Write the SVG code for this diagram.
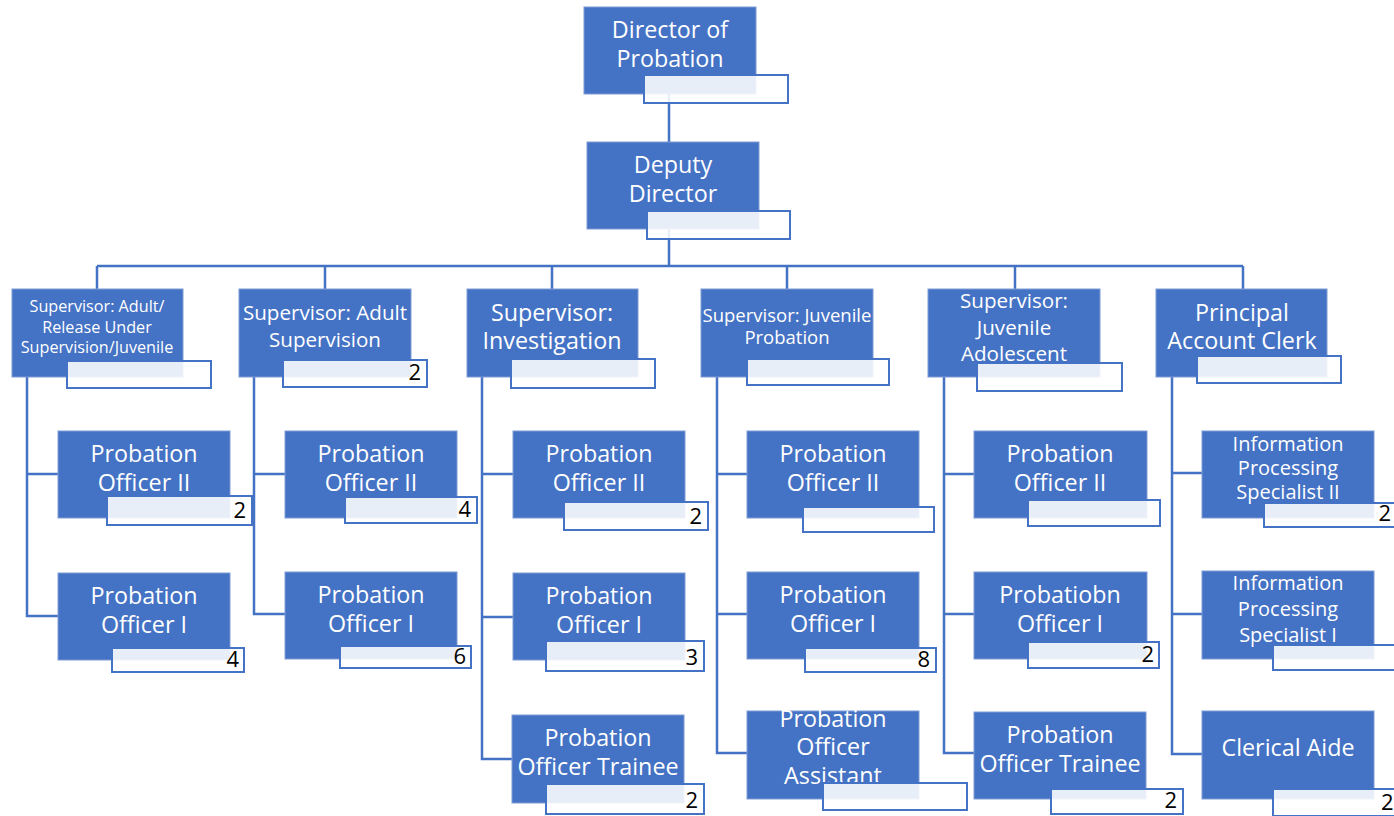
<svg xmlns="http://www.w3.org/2000/svg" width="1394" height="816" viewBox="0 0 1394 816">
<style>
.bg{fill:#ffffff}
.conn{fill:none;stroke:#4472C4;stroke-width:2.5}
.box{fill:#4472C4;stroke:#7E9BD6;stroke-width:1}
.lbl{fill:#ffffff;fill-opacity:0.88;stroke:#4472C4;stroke-width:2}
.t{fill:#ffffff;font-family:"Open Sans","Noto Sans",sans-serif;text-anchor:middle}
.n{fill:#000000;font-family:"Open Sans","Noto Sans",sans-serif;font-size:22px;text-anchor:end}
</style>
<rect class="bg" x="0" y="0" width="1394" height="816"/>
<g id="connectors">
<path class="conn" d="M669 94V142M669 229V266M97 266H1243M97 266V289M325 266V289M552 266V289M787 266V289M1015 266V289M1243 266V289"/>
<path class="conn" d="M27 377V616H58M27 474H58"/>
<path class="conn" d="M254 377V614H285M254 474H285"/>
<path class="conn" d="M482 377V759H513M482 474H513M482 617H513"/>
<path class="conn" d="M717 377V753H747M717 474H747M717 614H747"/>
<path class="conn" d="M944 377V753H974M944 474H974M944 614H974"/>
<path class="conn" d="M1172 377V754H1202M1172 473H1202M1172 614H1202"/>
</g>
<g id="director">
<rect class="box" x="584" y="7" width="172" height="87"/>
<text class="t" font-size="23.3"><tspan x="670" y="38">Director of</tspan><tspan x="670" y="67">Probation</tspan></text>
<rect class="lbl" x="644" y="75" width="144" height="28"/>
</g>
<g id="deputy">
<rect class="box" x="587" y="142" width="172" height="87"/>
<text class="t" font-size="23.3"><tspan x="673" y="173">Deputy</tspan><tspan x="673" y="202">Director</tspan></text>
<rect class="lbl" x="647" y="211" width="143" height="28"/>
</g>
<g id="sup1">
<rect class="box" x="12" y="289" width="171" height="88"/>
<text class="t" font-size="16.2"><tspan x="97" y="312">Supervisor: Adult/</tspan><tspan x="97" y="333">Release Under</tspan><tspan x="97" y="353">Supervision/Juvenile</tspan></text>
<rect class="lbl" x="67" y="361" width="144" height="27"/>
</g>
<g id="sup2">
<rect class="box" x="239" y="289" width="172" height="88"/>
<text class="t" font-size="20.6"><tspan x="325" y="320">Supervisor: Adult</tspan><tspan x="325" y="347">Supervision</tspan></text>
<rect class="lbl" x="283" y="360" width="144" height="27"/>
<text class="n" x="421" y="380">2</text>
</g>
<g id="sup3">
<rect class="box" x="467" y="289" width="171" height="88"/>
<text class="t" font-size="23.3"><tspan x="552" y="321">Supervisor:</tspan><tspan x="552" y="349">Investigation</tspan></text>
<rect class="lbl" x="511" y="359" width="144" height="29"/>
</g>
<g id="sup4">
<rect class="box" x="701" y="289" width="172" height="88"/>
<text class="t" font-size="18.5"><tspan x="787" y="322">Supervisor: Juvenile</tspan><tspan x="787" y="344">Probation</tspan></text>
<rect class="lbl" x="747" y="359" width="142" height="26"/>
</g>
<g id="sup5">
<rect class="box" x="928" y="289" width="172" height="88"/>
<text class="t" font-size="20.6"><tspan x="1014" y="308">Supervisor:</tspan><tspan x="1014" y="335">Juvenile</tspan><tspan x="1014" y="361">Adolescent</tspan></text>
<rect class="lbl" x="977" y="363" width="145" height="28"/>
</g>
<g id="sup6">
<rect class="box" x="1156" y="289" width="171" height="88"/>
<text class="t" font-size="23.3"><tspan x="1242" y="321">Principal</tspan><tspan x="1242" y="349">Account Clerk</tspan></text>
<rect class="lbl" x="1197" y="356" width="144" height="27"/>
</g>
<g id="c1-po2">
<rect class="box" x="58" y="431" width="172" height="87"/>
<text class="t" font-size="23.3"><tspan x="144" y="462">Probation</tspan><tspan x="144" y="491">Officer II</tspan></text>
<rect class="lbl" x="107" y="496" width="145" height="29"/>
<text class="n" x="246" y="518">2</text>
</g>
<g id="c1-po1">
<rect class="box" x="58" y="573" width="172" height="87"/>
<text class="t" font-size="23.3"><tspan x="144" y="604">Probation</tspan><tspan x="144" y="633">Officer I</tspan></text>
<rect class="lbl" x="112" y="648" width="132" height="24"/>
<text class="n" x="239" y="667">4</text>
</g>
<g id="c2-po2">
<rect class="box" x="285" y="431" width="172" height="87"/>
<text class="t" font-size="23.3"><tspan x="371" y="462">Probation</tspan><tspan x="371" y="491">Officer II</tspan></text>
<rect class="lbl" x="345" y="497" width="132" height="26"/>
<text class="n" x="471" y="517">4</text>
</g>
<g id="c2-po1">
<rect class="box" x="285" y="572" width="172" height="87"/>
<text class="t" font-size="23.3"><tspan x="371" y="603">Probation</tspan><tspan x="371" y="632">Officer I</tspan></text>
<rect class="lbl" x="340" y="646" width="131" height="22"/>
<text class="n" x="466" y="664">6</text>
</g>
<g id="c3-po2">
<rect class="box" x="513" y="431" width="172" height="87"/>
<text class="t" font-size="23.3"><tspan x="599" y="462">Probation</tspan><tspan x="599" y="491">Officer II</tspan></text>
<rect class="lbl" x="564" y="502" width="144" height="28"/>
<text class="n" x="702" y="524">2</text>
</g>
<g id="c3-po1">
<rect class="box" x="513" y="573" width="172" height="87"/>
<text class="t" font-size="23.3"><tspan x="599" y="604">Probation</tspan><tspan x="599" y="633">Officer I</tspan></text>
<rect class="lbl" x="546" y="641" width="158" height="30"/>
<text class="n" x="698" y="665">3</text>
</g>
<g id="c3-trainee">
<rect class="box" x="512" y="715" width="172" height="88"/>
<text class="t" font-size="23.3"><tspan x="598" y="746">Probation</tspan><tspan x="598" y="775">Officer Trainee</tspan></text>
<rect class="lbl" x="546" y="784" width="158" height="30"/>
<text class="n" x="698" y="808">2</text>
</g>
<g id="c4-po2">
<rect class="box" x="747" y="431" width="172" height="87"/>
<text class="t" font-size="23.3"><tspan x="833" y="462">Probation</tspan><tspan x="833" y="491">Officer II</tspan></text>
<rect class="lbl" x="803" y="507" width="131" height="25"/>
</g>
<g id="c4-po1">
<rect class="box" x="747" y="572" width="172" height="87"/>
<text class="t" font-size="23.3"><tspan x="833" y="603">Probation</tspan><tspan x="833" y="632">Officer I</tspan></text>
<rect class="lbl" x="805" y="648" width="131" height="24"/>
<text class="n" x="930" y="667">8</text>
</g>
<g id="c4-assistant">
<rect class="box" x="747" y="711" width="172" height="88"/>
<text class="t" font-size="23.3"><tspan x="833" y="727">Probation</tspan><tspan x="833" y="755">Officer</tspan><tspan x="833" y="784">Assistant</tspan></text>
<rect class="lbl" x="823" y="783" width="144" height="27"/>
</g>
<g id="c5-po2">
<rect class="box" x="974" y="431" width="173" height="87"/>
<text class="t" font-size="23.3"><tspan x="1060" y="462">Probation</tspan><tspan x="1060" y="491">Officer II</tspan></text>
<rect class="lbl" x="1028" y="500" width="132" height="26"/>
</g>
<g id="c5-po1">
<rect class="box" x="974" y="572" width="173" height="87"/>
<text class="t" font-size="23.3"><tspan x="1060" y="603">Probatiobn</tspan><tspan x="1060" y="632">Officer I</tspan></text>
<rect class="lbl" x="1028" y="642" width="131" height="26"/>
<text class="n" x="1154" y="662">2</text>
</g>
<g id="c5-trainee">
<rect class="box" x="974" y="712" width="172" height="87"/>
<text class="t" font-size="23.3"><tspan x="1060" y="743">Probation</tspan><tspan x="1060" y="772">Officer Trainee</tspan></text>
<rect class="lbl" x="1051" y="789" width="132" height="25"/>
<text class="n" x="1177" y="808">2</text>
</g>
<g id="c6-ips2">
<rect class="box" x="1202" y="431" width="172" height="87"/>
<text class="t" font-size="20"><tspan x="1288" y="451">Information</tspan><tspan x="1288" y="475">Processing</tspan><tspan x="1288" y="499">Specialist II</tspan></text>
<rect class="lbl" x="1264" y="503" width="140" height="24"/>
<text class="n" x="1391" y="521">2</text>
</g>
<g id="c6-ips1">
<rect class="box" x="1202" y="571" width="172" height="88"/>
<text class="t" font-size="20"><tspan x="1288" y="590">Information</tspan><tspan x="1288" y="616">Processing</tspan><tspan x="1288" y="642">Specialist I</tspan></text>
<rect class="lbl" x="1273" y="645" width="130" height="25"/>
</g>
<g id="c6-clerical">
<rect class="box" x="1202" y="711" width="172" height="88"/>
<text class="t" font-size="23.3"><tspan x="1288" y="756">Clerical Aide</tspan></text>
<rect class="lbl" x="1273" y="789" width="130" height="27"/>
<text class="n" x="1381" y="810" style="text-anchor:start">2</text>
</g>
</svg>
